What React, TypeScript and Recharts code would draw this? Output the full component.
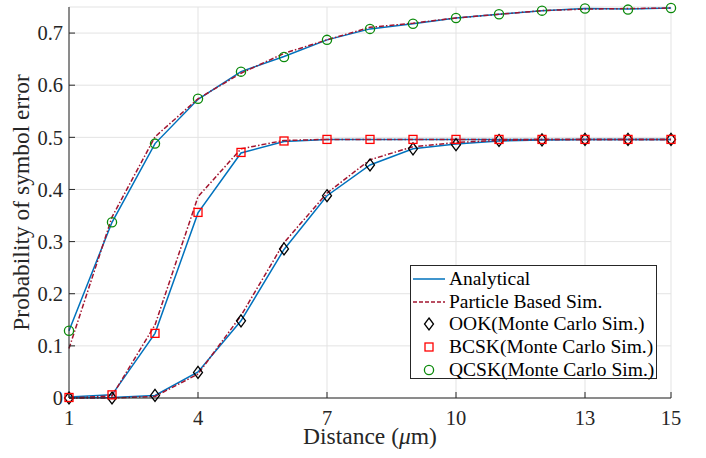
import { LineChart, Line, XAxis, YAxis, CartesianGrid } from "recharts"

const distance = [1, 2, 3, 4, 5, 6, 7, 8, 9, 10, 11, 12, 13, 14, 15]
const xTicks = [1, 4, 7, 10, 13, 15]
const yTicks = [0, 0.1, 0.2, 0.3, 0.4, 0.5, 0.6, 0.7]

const ookAnalytical = [0.0, 0.001, 0.005, 0.05, 0.148, 0.285, 0.388, 0.447, 0.478, 0.487, 0.493, 0.495, 0.496, 0.496, 0.496]
const ookParticle = [0.0, 0.0, 0.003, 0.046, 0.158, 0.298, 0.393, 0.457, 0.482, 0.49, 0.494, 0.496, 0.496, 0.496, 0.496]
const ookMonteCarlo = [0.0, 0.0, 0.005, 0.049, 0.148, 0.286, 0.388, 0.447, 0.478, 0.486, 0.494, 0.495, 0.496, 0.496, 0.496]

const bcskAnalytical = [0.002, 0.006, 0.124, 0.355, 0.47, 0.492, 0.496, 0.496, 0.496, 0.496, 0.496, 0.496, 0.496, 0.496, 0.496]
const bcskParticle = [0.0, 0.004, 0.14, 0.386, 0.478, 0.494, 0.496, 0.496, 0.496, 0.496, 0.496, 0.496, 0.496, 0.496, 0.496]
const bcskMonteCarlo = [0.001, 0.006, 0.124, 0.356, 0.471, 0.493, 0.496, 0.496, 0.496, 0.496, 0.496, 0.496, 0.496, 0.496, 0.496]

const qcskAnalytical = [0.129, 0.337, 0.488, 0.573, 0.626, 0.655, 0.687, 0.708, 0.718, 0.729, 0.736, 0.743, 0.747, 0.746, 0.748]
const qcskParticle = [0.095, 0.347, 0.501, 0.574, 0.623, 0.661, 0.687, 0.711, 0.719, 0.729, 0.736, 0.743, 0.746, 0.747, 0.748]
const qcskMonteCarlo = [0.129, 0.337, 0.488, 0.574, 0.626, 0.654, 0.687, 0.708, 0.718, 0.729, 0.736, 0.743, 0.747, 0.745, 0.748]

const data = distance.map((d, i) => ({
  d,
  ookA: ookAnalytical[i],
  ookP: ookParticle[i],
  ookM: ookMonteCarlo[i],
  bcskA: bcskAnalytical[i],
  bcskP: bcskParticle[i],
  bcskM: bcskMonteCarlo[i],
  qcskA: qcskAnalytical[i],
  qcskP: qcskParticle[i],
  qcskM: qcskMonteCarlo[i],
}))

const FONT = "Liberation Serif"
const BLUE = "#0072BD"
const RED = "#A2142F"
const AXIS = "#262626"
const GREEN = "#0b8a0b"
const DASH = "5 2 1.5 2"

const diamondPath = (cx: number, cy: number) =>
  `M${cx},${cy - 6} L${cx + 4.5},${cy} L${cx},${cy + 6} L${cx - 4.5},${cy} Z`

function Diamond(props: any) {
  const { cx, cy } = props
  if (cx == null || cy == null) return <g />
  return <path d={diamondPath(cx, cy)} fill="none" stroke="#000" strokeWidth={1.3} />
}

function Square(props: any) {
  const { cx, cy } = props
  if (cx == null || cy == null) return <g />
  return <rect x={cx - 4} y={cy - 4} width={8} height={8} fill="none" stroke="#ff0000" strokeWidth={1.3} />
}

function Circle(props: any) {
  const { cx, cy } = props
  if (cx == null || cy == null) return <g />
  return <circle cx={cx} cy={cy} r={4.6} fill="none" stroke={GREEN} strokeWidth={1.3} />
}

const tickStyle = { fontFamily: FONT, fontSize: 20.5, fill: AXIS }

function XLabel(props: any) {
  const vb = props.viewBox
  return (
    <text x={vb.x + vb.width / 2} y={vb.y + 46} textAnchor="middle" fontFamily={FONT} fontSize={23.5} fill={AXIS}>
      Distance (<tspan fontStyle="italic">μ</tspan>m)
    </text>
  )
}

function YLabel(props: any) {
  const vb = props.viewBox
  const cy = vb.y + vb.height / 2
  return (
    <text transform={`translate(29,${cy}) rotate(-90)`} textAnchor="middle" fontFamily={FONT} fontSize={23.5} fill={AXIS}>
      Probability of symbol error
    </text>
  )
}

const legendRows = [
  { label: "Analytical", kind: "line" },
  { label: "Particle Based Sim.", kind: "dash" },
  { label: "OOK(Monte Carlo Sim.)", kind: "diamond" },
  { label: "BCSK(Monte Carlo Sim.)", kind: "square" },
  { label: "QCSK(Monte Carlo Sim.)", kind: "circle" },
]

function LegendSample({ kind }: { kind: string }) {
  return (
    <svg width={34} height={22}>
      {kind === "line" && <line x1={1} x2={33} y1={11} y2={11} stroke={BLUE} strokeWidth={1.5} />}
      {kind === "dash" && <line x1={1} x2={33} y1={11} y2={11} stroke={RED} strokeWidth={1.5} strokeDasharray="4 2" />}
      {kind === "diamond" && <path d={diamondPath(17, 11)} fill="none" stroke="#000" strokeWidth={1.3} />}
      {kind === "square" && <rect x={13} y={7} width={8} height={8} fill="none" stroke="#ff0000" strokeWidth={1.3} />}
      {kind === "circle" && <circle cx={17} cy={11} r={4.6} fill="none" stroke={GREEN} strokeWidth={1.3} />}
    </svg>
  )
}

export default function App() {
  return (
    <div style={{ position: "absolute", left: 0, top: 0, width: 706, height: 458, background: "#fff" }}>
      <LineChart width={706} height={458} data={data} margin={{ top: 7, right: 35, bottom: 0, left: 9 }}>
        <CartesianGrid stroke="#e3e3e3" strokeWidth={1} />
        <XAxis
          dataKey="d"
          type="number"
          domain={[1, 15]}
          ticks={xTicks}
          height={60}
          tick={tickStyle}
          tickSize={-6}
          tickMargin={18}
          tickLine={{ stroke: AXIS }}
          axisLine={{ stroke: AXIS }}
          label={<XLabel />}
        />
        <XAxis
          xAxisId="top"
          dataKey="d"
          type="number"
          orientation="top"
          domain={[1, 15]}
          ticks={xTicks}
          height={0}
          tick={false}
          tickSize={-6}
          tickLine={{ stroke: AXIS }}
          axisLine={{ stroke: AXIS }}
        />
        <YAxis
          type="number"
          domain={[0, 0.75]}
          ticks={yTicks}
          width={60}
          tick={tickStyle}
          tickSize={-6}
          tickMargin={12}
          tickLine={{ stroke: AXIS }}
          axisLine={{ stroke: AXIS }}
          label={<YLabel />}
        />
        <YAxis
          yAxisId="right"
          type="number"
          orientation="right"
          domain={[0, 0.75]}
          ticks={yTicks}
          width={0}
          tick={false}
          tickSize={-6}
          tickLine={{ stroke: AXIS }}
          axisLine={{ stroke: AXIS }}
        />

        <Line dataKey="ookA" stroke={BLUE} strokeWidth={1.5} dot={false} isAnimationActive={false} />
        <Line dataKey="bcskA" stroke={BLUE} strokeWidth={1.5} dot={false} isAnimationActive={false} />
        <Line dataKey="qcskA" stroke={BLUE} strokeWidth={1.5} dot={false} isAnimationActive={false} />
        <Line dataKey="ookP" stroke={RED} strokeWidth={1.5} strokeDasharray={DASH} dot={false} isAnimationActive={false} />
        <Line dataKey="bcskP" stroke={RED} strokeWidth={1.5} strokeDasharray={DASH} dot={false} isAnimationActive={false} />
        <Line dataKey="qcskP" stroke={RED} strokeWidth={1.5} strokeDasharray={DASH} dot={false} isAnimationActive={false} />
        <Line dataKey="ookM" stroke="none" dot={<Diamond />} activeDot={false} isAnimationActive={false} />
        <Line dataKey="bcskM" stroke="none" dot={<Square />} activeDot={false} isAnimationActive={false} />
        <Line dataKey="qcskM" stroke="none" dot={<Circle />} activeDot={false} isAnimationActive={false} />
      </LineChart>

      <div
        style={{
          position: "absolute",
          left: 410,
          top: 265,
          width: 247,
          height: 114,
          boxSizing: "border-box",
          border: `1px solid ${AXIS}`,
          background: "#fff",
          paddingTop: 2,
          fontFamily: FONT,
          fontSize: 19.5,
          color: "#000",
        }}
      >
        {legendRows.map((row) => (
          <div key={row.label} style={{ display: "flex", alignItems: "center", height: 22.6, paddingLeft: 1 }}>
            <LegendSample kind={row.kind} />
            <span style={{ marginLeft: 3, whiteSpace: "nowrap", lineHeight: "22px" }}>{row.label}</span>
          </div>
        ))}
      </div>
    </div>
  )
}
